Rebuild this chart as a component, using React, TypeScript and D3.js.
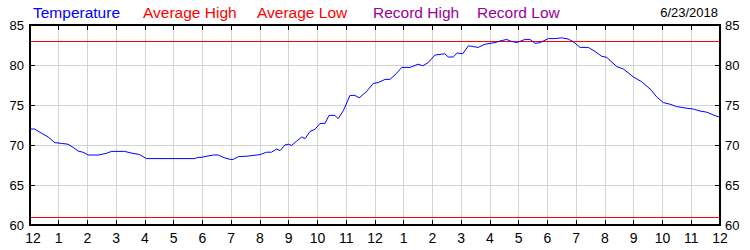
import React from "react";
import * as d3 from "d3";

const hours = [
  0, 0.16, 0.39, 0.63, 0.86, 1.09, 1.32, 1.5, 1.67, 1.84, 2.02, 2.37, 2.65, 2.83, 3.29, 3.52, 3.81, 4.05, 5.73, 5.84,
  5.95, 6.15, 6.38, 6.55, 6.72, 6.96, 7.07, 7.25, 7.54, 8.0, 8.23, 8.4, 8.58, 8.7, 8.87, 8.98, 9.1, 9.28, 9.45, 9.57,
  9.74, 9.91, 10.09, 10.26, 10.4, 10.6, 10.72, 10.9, 11.13, 11.3, 11.45, 11.71, 11.94, 12.11, 12.35, 12.52, 12.75,
  12.93, 13.22, 13.5, 13.66, 13.85, 14.09, 14.43, 14.55, 14.72, 14.86, 15.05, 15.25, 15.42, 15.59, 15.83, 16.17,
  16.35, 16.58, 16.7, 16.93, 17.22, 17.39, 17.57, 17.74, 18.03, 18.26, 18.49, 18.72, 18.9, 19.13, 19.42, 19.65,
  19.88, 20.06, 20.41, 20.64, 20.99, 21.28, 21.6, 21.8, 22.03, 22.26, 22.49, 22.84, 23.07, 23.3, 23.54, 23.77, 24.0,
];
const temps = [
  72.0, 72.0, 71.5, 71.0, 70.3, 70.2, 70.1, 69.7, 69.25, 69.1, 68.75, 68.75, 68.95, 69.2, 69.2, 69.0, 68.8, 68.3, 68.3,
  68.45, 68.45, 68.6, 68.75, 68.75, 68.45, 68.2, 68.2, 68.55, 68.6, 68.8, 69.1, 69.1, 69.5, 69.3, 70.0, 70.1, 69.95,
  70.5, 71.0, 70.8, 71.7, 71.95, 72.7, 72.7, 73.7, 73.7, 73.3, 74.3, 76.2, 76.2, 75.9, 76.7, 77.7, 77.8, 78.2, 78.2,
  78.95, 79.7, 79.7, 80.1, 79.9, 80.3, 81.25, 81.4, 81.0, 81.0, 81.5, 81.4, 82.4, 82.3, 82.2, 82.6, 82.8, 83.0, 83.2,
  83.0, 82.8, 83.2, 83.2, 82.7, 82.8, 83.3, 83.3, 83.4, 83.25, 82.9, 82.2, 82.2, 81.7, 81.1, 80.95, 79.8, 79.5, 78.5,
  77.9, 76.9, 76.0, 75.3, 75.1, 74.8, 74.6, 74.5, 74.25, 74.1, 73.75, 73.45,
];
const avgHigh = 83;
const avgLow = 61;
const xTickLabels = ["12", "1", "2", "3", "4", "5", "6", "7", "8", "9", "10", "11", "12", "1", "2", "3", "4", "5", "6", "7", "8", "9", "10", "11", "12"];
const yTicks = [60, 65, 70, 75, 80, 85];
const legendItems = ["Temperature", "Average High", "Average Low", "Record High", "Record Low"];
const legendColors = ["#0000ff", "#ff0000", "#ff0000", "#990099", "#990099"];
const legendX = [33, 143, 257, 373, 477];
const dateLabel = "6/23/2018";

export default function App() {
  const W = 750, H = 250;
  const L = 30, R = 720, T = 25, B = 225;
  const x = d3.scaleLinear().domain([0, 24]).range([L, R]);
  const y = d3.scaleLinear().domain([60, 85]).range([B, T]);
  const hourTicks = d3.range(0, 25);
  const line = d3
    .line<number>()
    .x((_, i) => x(hours[i]))
    .y((d) => y(d));
  const font = "'Liberation Sans', Arial, sans-serif";
  const crisp = "crispEdges";
  return (
    <svg width={W} height={H} style={{ position: "absolute", left: 0, top: 0, background: "#fff" }} fontFamily={font}>
      <rect x={0} y={0} width={W} height={H} fill="#fff" />
      {hourTicks.map((h) => (
        <line key={"gx" + h} x1={x(h)} x2={x(h)} y1={T} y2={B} stroke="#d3d3d3" strokeWidth={1} shapeRendering={crisp} />
      ))}
      {yTicks.map((v) => (
        <line key={"gy" + v} x1={L} x2={R} y1={y(v)} y2={y(v)} stroke="#d3d3d3" strokeWidth={1} shapeRendering={crisp} />
      ))}
      <line x1={L} x2={R} y1={y(avgHigh)} y2={y(avgHigh)} stroke="#ff0000" strokeWidth={1} shapeRendering={crisp} />
      <line x1={L} x2={R} y1={y(avgLow)} y2={y(avgLow)} stroke="#ff0000" strokeWidth={1} shapeRendering={crisp} />
      <path d={line(temps) || ""} fill="none" stroke="#0000ff" strokeWidth={1} />
      {hourTicks.map((h) => (
        <g key={"t" + h} shapeRendering={crisp}>
          <line x1={x(h)} x2={x(h)} y1={T} y2={T + 5} stroke="#000" />
          <line x1={x(h)} x2={x(h)} y1={B} y2={B - 5} stroke="#000" />
        </g>
      ))}
      {yTicks.map((v) => (
        <g key={"yt" + v} shapeRendering={crisp}>
          <line x1={L} x2={L + 5} y1={y(v)} y2={y(v)} stroke="#000" />
          <line x1={R} x2={R - 5} y1={y(v)} y2={y(v)} stroke="#000" />
        </g>
      ))}
      <rect x={L} y={T} width={R - L} height={B - T} fill="none" stroke="#000" strokeWidth={1.5} shapeRendering={crisp} />
      {yTicks.map((v) => (
        <g key={"yl" + v} fontSize={13} fill="#000">
          <text x={L - 6} y={y(v)} dy="0.36em" textAnchor="end">{v}</text>
          <text x={R + 5} y={y(v)} dy="0.36em" textAnchor="start">{v}</text>
        </g>
      ))}
      {hourTicks.map((h) => (
        <text key={"xl" + h} x={x(h) + (h === 0 ? 3 : 0)} y={243} textAnchor="middle" fontSize={14} fill="#000">
          {xTickLabels[h]}
        </text>
      ))}
      {legendItems.map((s, i) => (
        <text key={s} x={legendX[i]} y={18} fontSize={15.5} fill={legendColors[i]}>
          {s}
        </text>
      ))}
      <text x={718} y={17} fontSize={13} textAnchor="end" fill="#000">{dateLabel}</text>
    </svg>
  );
}
